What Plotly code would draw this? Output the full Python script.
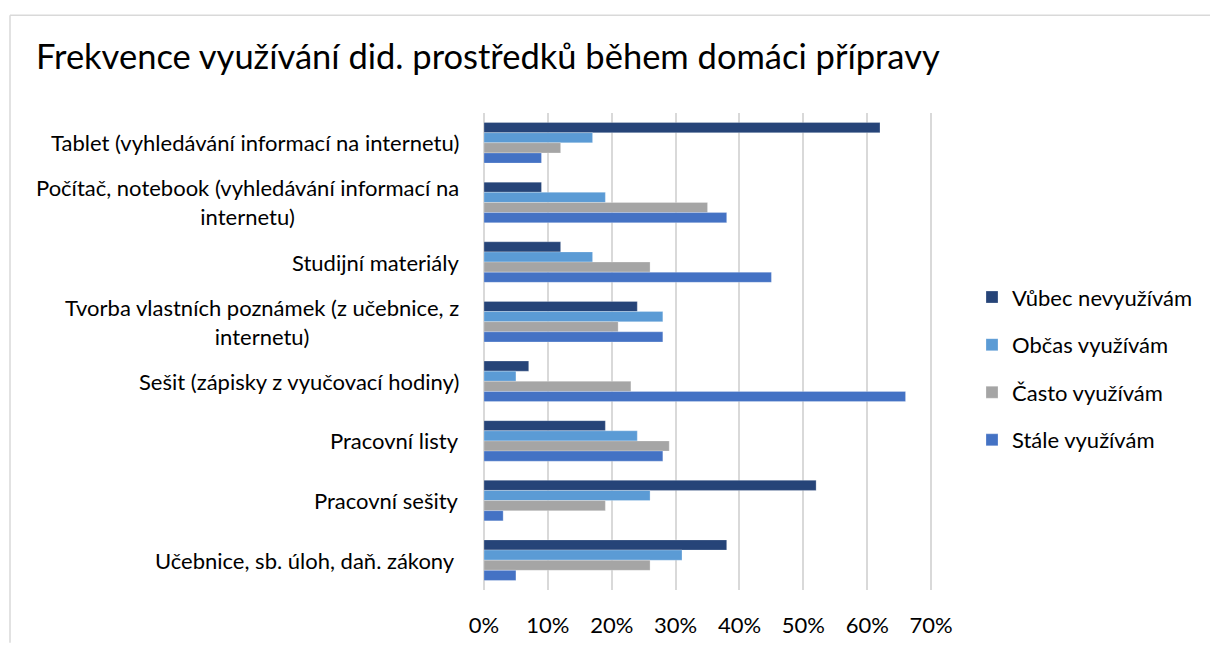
import plotly.graph_objects as go

categories = [
    "Tablet (vyhledávání informací na internetu)",
    "Počítač, notebook (vyhledávání informací na<br>internetu)",
    "Studijní materiály",
    "Tvorba vlastních poznámek (z učebnice, z<br>internetu)",
    "Sešit (zápisky z vyučovací hodiny)",
    "Pracovní listy",
    "Pracovní sešity",
    "Učebnice, sb. úloh, daň. zákony ",
]
series_names = ["Vůbec nevyužívám", "Občas využívám", "Často využívám", "Stále využívám"]
vubec = [0.62, 0.09, 0.12, 0.24, 0.07, 0.19, 0.52, 0.38]
obcas = [0.17, 0.19, 0.17, 0.28, 0.05, 0.24, 0.26, 0.31]
casto = [0.12, 0.35, 0.26, 0.21, 0.23, 0.29, 0.19, 0.26]
stale = [0.09, 0.38, 0.45, 0.28, 0.66, 0.28, 0.03, 0.05]
colors = ["#264478", "#5B9BD5", "#A5A5A5", "#4472C4"]
x_ticks = [0, 0.1, 0.2, 0.3, 0.4, 0.5, 0.6, 0.7]
x_tick_labels = ["0%", "10%", "20%", "30%", "40%", "50%", "60%", "70%"]

FONT = "Lato"
FS = 22
fig = go.Figure()
for name, vals, col in zip(series_names, [vubec, obcas, casto, stale], colors):
    fig.add_trace(go.Bar(
        y=categories, x=vals, name=name, orientation="h",
        marker=dict(color=col, line=dict(color="rgba(255,255,255,0.5)", width=0.5)),
        legendgroup=name,
    ))

L, R, T, B = 484, 933, 113, 601
W, H = 1210, 650
pw, ph = R - L, B - T

annotations = []
for c in categories:
    annotations.append(dict(
        text=c, x=-23 / pw, xref="paper", y=c, yref="y", xanchor="right", yanchor="middle",
        align="center", showarrow=False, font=dict(family=FONT, size=FS, color="#000000"),
    ))

fig.update_layout(
    width=W, height=H,
    margin=dict(l=L, r=W - R, t=T, b=H - B),
    paper_bgcolor="white", plot_bgcolor="white",
    barmode="group", bargap=0.32, bargroupgap=0,
    title=dict(text="Frekvence využívání did. prostředků během domáci přípravy",
               x=36 / W, xanchor="left", xref="container",
               y=1 - 57 / H, yanchor="middle", yref="container",
               font=dict(family=FONT, size=34.5, color="#000000")),
    xaxis=dict(range=[0, 0.703], tickvals=x_ticks, ticktext=x_tick_labels,
               showgrid=True, gridcolor="#D9D9D9", gridwidth=1.5,
               zeroline=True, zerolinecolor="#D9D9D9", zerolinewidth=1.5,
               showline=False, ticks="", ticklabelstandoff=20,
               tickfont=dict(family=FONT, size=FS, color="#000000")),
    yaxis=dict(autorange="reversed", showticklabels=False, showgrid=False,
               zeroline=False, showline=False, ticks=""),
    legend=dict(x=(972 - L) / pw, xanchor="left", y=(B - 280) / ph, yanchor="top",
                traceorder="grouped", tracegroupgap=16,
                font=dict(family=FONT, size=FS, color="#000000"),
                itemwidth=30, bgcolor="rgba(0,0,0,0)"),
    annotations=annotations,
    shapes=[
        dict(type="line", xref="paper", yref="paper",
             x0=(10 - L) / pw, x1=(W + 5 - L) / pw, y0=(B - 13) / ph, y1=(B - 13) / ph,
             line=dict(color="#D9D9D9", width=1.5)),
        dict(type="line", xref="paper", yref="paper",
             x0=(10 - L) / pw, x1=(10 - L) / pw, y0=(B - 13) / ph, y1=(B - H - 5) / ph,
             line=dict(color="#D9D9D9", width=1.5)),
    ],
)

fig.write_html("out.html", config={"displayModeBar": False},
               post_script="document.body.style.margin='0';document.body.style.padding='0';")
